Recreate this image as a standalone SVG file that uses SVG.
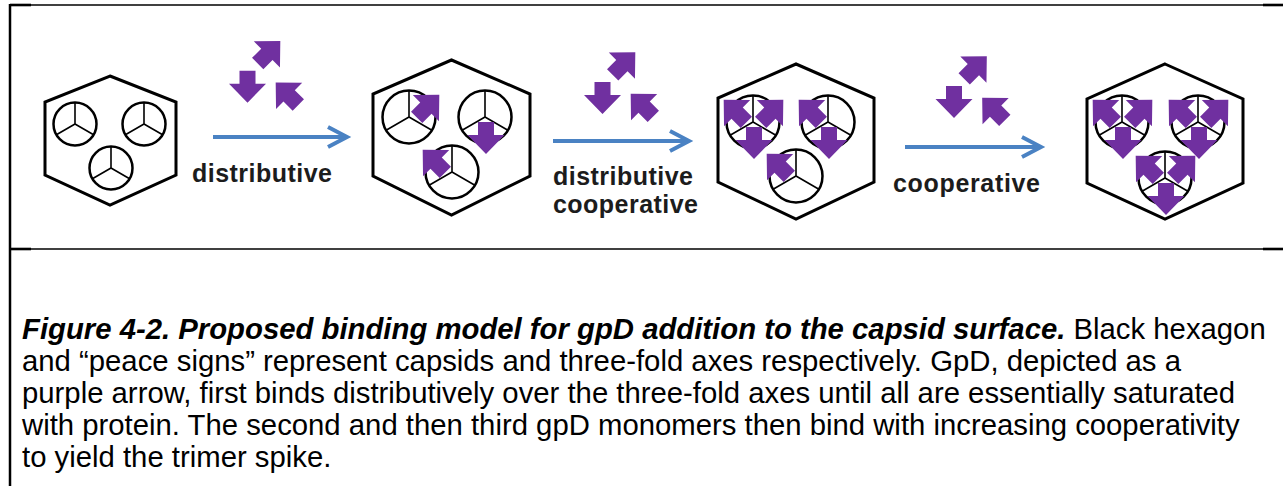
<svg xmlns="http://www.w3.org/2000/svg" width="1283" height="486" viewBox="0 0 1283 486">
  <style>
    .frame{stroke:#000;fill:none}
    .hex{fill:none;stroke:#000;stroke-width:3;stroke-linejoin:miter}
    .ring{fill:none;stroke:#000;stroke-width:2.5}
    .spoke{fill:none;stroke:#000;stroke-width:1.6}
    .mono{fill:#7030A0}
    .flow{fill:none;stroke:#4A82C3;stroke-width:4;stroke-linecap:butt;stroke-linejoin:miter}
    .lbl{font-family:"Liberation Sans",Arial,sans-serif;font-weight:bold;font-size:25px;fill:#1c1c1c}
    .cap{font-family:"Liberation Sans",Arial,sans-serif;font-size:29.3px;fill:#000}
    .em{font-weight:bold;font-style:italic}
  </style>
  <defs>
    <!-- gpD monomer: block arrow pointing up, centred on its length -->
    <polygon id="mono" class="mono" points="0,-16 18.5,3 8,3 8,16 -8,16 -8,3 -18.5,3"/>
    <!-- three-fold axis ("peace sign"), two sizes -->
    <g id="axis-s">
      <circle class="ring" r="21.5"/>
      <path class="spoke" d="M0,-21.5V0M0,0L-18.6,10.75M0,0L18.6,10.75"/>
    </g>
    <g id="axis">
      <circle class="ring" r="26.5"/>
      <path class="spoke" d="M0,-26.5V0M0,0L-22.9,13.25M0,0L22.9,13.25"/>
    </g>
    <!-- monomers bound to an axis, relative to the axis centre -->
    <use id="bind-ne" href="#mono" transform="translate(19,-11) rotate(45)"/>
    <use id="bind-nw" href="#mono" transform="translate(-18,-11) rotate(-45)"/>
    <use id="bind-s" href="#mono" transform="translate(1,21) rotate(180)"/>
    <!-- three free monomers -->
    <g id="trio">
      <use href="#mono" transform="rotate(180)"/>
      <use href="#mono" transform="translate(21.5,-34.5) rotate(45)"/>
      <use href="#mono" transform="translate(39.5,7) rotate(-45)"/>
    </g>
  </defs>

  <rect width="1283" height="486" fill="#fff"/>

  <!-- page frame -->
  <g id="frame" class="frame">
    <line x1="10" y1="4" x2="10" y2="486" stroke-width="2.5"/>
    <line x1="10" y1="5" x2="1283" y2="5" stroke-width="1.6"/>
    <line x1="10" y1="5" x2="31" y2="5" stroke-width="2.6"/>
    <line x1="1263" y1="5" x2="1283" y2="5" stroke-width="2.6"/>
    <line x1="10" y1="249" x2="1283" y2="249" stroke-width="1.6"/>
    <line x1="10" y1="249" x2="31" y2="249" stroke-width="2.6"/>
    <line x1="1263" y1="249" x2="1283" y2="249" stroke-width="2.6"/>
  </g>

  <!-- capsid, empty -->
  <g id="capsid-empty">
    <polygon class="hex" points="110,76 176,102 176,175 110,205 45,175 45,102"/>
    <use href="#axis-s" x="75" y="124"/>
    <use href="#axis-s" x="144" y="124"/>
    <use href="#axis-s" x="111" y="168"/>
  </g>

  <!-- capsid, one monomer per axis -->
  <g id="capsid-one">
    <polygon class="hex" points="451.5,60 530,94 530,176 451.5,215 373,176 373,94"/>
    <use href="#axis" x="409" y="117"/>
    <use href="#axis" x="485" y="117"/>
    <use href="#axis" x="452" y="172"/>
    <use href="#bind-ne" x="409" y="117"/>
    <use href="#bind-s" x="485" y="117"/>
    <use href="#bind-nw" x="452" y="172"/>
  </g>

  <!-- capsid, partly filled -->
  <g id="capsid-partial">
    <polygon class="hex" points="796,64 874,98 874,182 796,219 718,182 718,98"/>
    <use href="#axis" x="753" y="122"/>
    <use href="#axis" x="828" y="122"/>
    <use href="#axis" x="796" y="176"/>
    <use href="#bind-nw" x="753" y="122"/>
    <use href="#bind-ne" x="753" y="122"/>
    <use href="#bind-s" x="753" y="122"/>
    <use href="#bind-nw" x="828" y="122"/>
    <use href="#bind-s" x="828" y="122"/>
    <use href="#bind-nw" x="796" y="176"/>
  </g>

  <!-- capsid, trimer spikes complete -->
  <g id="capsid-full">
    <polygon class="hex" points="1165,64 1243,99 1243,183 1165,219 1087,183 1087,99"/>
    <use href="#axis" x="1122" y="122"/>
    <use href="#axis" x="1198" y="122"/>
    <use href="#axis" x="1165" y="178"/>
    <use href="#bind-nw" x="1122" y="122"/>
    <use href="#bind-ne" x="1122" y="122"/>
    <use href="#bind-s" x="1122" y="122"/>
    <use href="#bind-nw" x="1198" y="122"/>
    <use href="#bind-ne" x="1198" y="122"/>
    <use href="#bind-s" x="1198" y="122"/>
    <use href="#bind-nw" x="1165" y="178"/>
    <use href="#bind-ne" x="1165" y="178"/>
    <use href="#bind-s" x="1165" y="178"/>
  </g>

  <!-- free gpD above each step -->
  <g id="free-gpd-1"><use href="#trio" x="247.5" y="86.7"/></g>
  <g id="free-gpd-2"><use href="#trio" x="602.5" y="98"/></g>
  <g id="free-gpd-3"><use href="#trio" x="954" y="102"/></g>

  <!-- reaction steps -->
  <g id="connectors">
    <g id="step-1">
      <path class="flow" d="M213,137H346M328,127L347,137L328,147"/>
      <text class="lbl" x="192" y="182" textLength="140" lengthAdjust="spacing">distributive</text>
    </g>
    <g id="step-2">
      <path class="flow" d="M553,141H688M670,131L689,141L670,151"/>
      <text class="lbl" x="553" y="185" textLength="140" lengthAdjust="spacing">distributive</text>
      <text class="lbl" x="553" y="213" textLength="145" lengthAdjust="spacing">cooperative</text>
    </g>
    <g id="step-3">
      <path class="flow" d="M905,147H1040M1022,137L1041,147L1022,157"/>
      <text class="lbl" x="893" y="192" textLength="147" lengthAdjust="spacing">cooperative</text>
    </g>
  </g>

  <!-- figure legend -->
  <g id="caption" class="cap">
    <text x="22" y="339"><tspan class="em">Figure 4-2. Proposed binding model for gpD addition to the capsid surface.</tspan> Black hexagon</text>
    <text x="22" y="371">and “peace signs” represent capsids and three-fold axes respectively. GpD, depicted as a</text>
    <text x="22" y="403">purple arrow, first binds distributively over the three-fold axes until all are essentially saturated</text>
    <text x="22" y="435">with protein. The second and then third gpD monomers then bind with increasing cooperativity</text>
    <text x="22" y="467">to yield the trimer spike.</text>
  </g>
</svg>
